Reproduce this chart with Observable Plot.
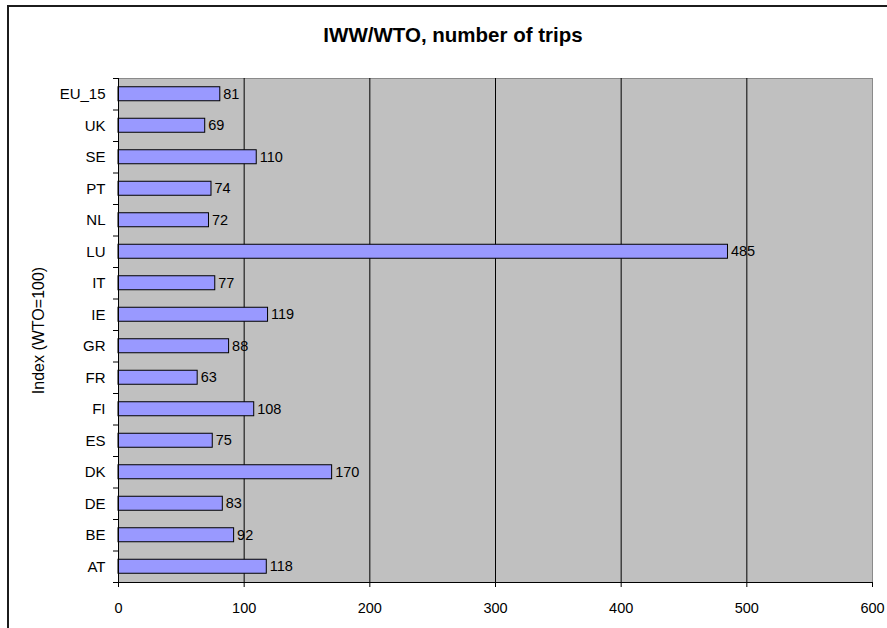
<!DOCTYPE html>
<html>
<head>
<meta charset="utf-8">
<script src="https://cdn.jsdelivr.net/npm/d3@7"></script>
<script src="https://cdn.jsdelivr.net/npm/@observablehq/plot@0.6"></script>
<style>
  html, body { margin: 0; padding: 0; background: #fff; overflow: hidden; }
  body { font-family: "Liberation Sans", Arial, sans-serif; color: #000; }
  #wrap { position: relative; width: 887px; height: 628px; overflow: hidden; }
  #border { position: absolute; left: 7px; top: 5px; width: 1000px; height: 1000px;
            border-left: 2px solid #1c1c1c; border-top: 2px solid #1c1c1c; }
  #title { position: absolute; left: 0; top: 23px; width: 906px; text-align: center;
           font-weight: bold; font-size: 20.5px; line-height: 24px; }
  #chart { position: absolute; left: 0; top: 0; }
  #chart svg { font-family: "Liberation Sans", Arial, sans-serif; }
</style>
</head>
<body>
<div id="wrap">
  <div id="border"></div>
  <div id="chart"></div>
  <div id="title"></div>
</div>
<script>
const titleText = "IWW/WTO, number of trips";
const yTitle = "Index (WTO=100)";
const countries = ["EU_15", "UK", "SE", "PT", "NL", "LU", "IT", "IE", "GR", "FR", "FI", "ES", "DK", "DE", "BE", "AT"];
const values    = [81, 69, 110, 74, 72, 485, 77, 119, 88, 63, 108, 75, 170, 83, 92, 118];
const xTicks = [0, 100, 200, 300, 400, 500, 600];

const data = countries.map((c, i) => ({country: c, value: values[i]}));
const gridTicks = xTicks.filter(t => t > xTicks[0] && t < xTicks[xTicks.length - 1]);

const W = 887, H = 628;
const mL = 118, mR = 15, mT = 78, mB = 46;
const band = (H - mT - mB) / countries.length;
const barH = 14;
const tickUnits = 5 * (xTicks[xTicks.length - 1] - xTicks[0]) / (W - mL - mR);

document.getElementById("title").textContent = titleText;

const chart = Plot.plot({
  width: W,
  height: H,
  marginLeft: mL,
  marginRight: mR,
  marginTop: mT,
  marginBottom: mB,
  style: {background: "transparent", color: "#000", fontFamily: "Liberation Sans, Arial, sans-serif"},
  x: {domain: [xTicks[0], xTicks[xTicks.length - 1]]},
  y: {type: "band", domain: countries, padding: 0, round: false},
  marks: [
    Plot.frame({fill: "#C0C0C0", stroke: "#8a8a8a"}),
    Plot.gridX(gridTicks, {stroke: "#000", strokeOpacity: 1, strokeWidth: 1}),
    Plot.barX(data, {x: "value", y: "country", fill: "#9999FF", stroke: "#000", strokeWidth: 1,
                     insetTop: (band - barH) / 2, insetBottom: (band - barH) / 2}),
    Plot.text(data, {x: "value", y: "country", text: d => String(d.value), textAnchor: "start",
                     dx: 3, fontSize: 14.5, fill: "#000"}),
    Plot.ruleX([xTicks[0]], {stroke: "#000", strokeWidth: 1}),
    Plot.ruleY([countries[countries.length - 1]], {dy: band / 2, stroke: "#000", strokeWidth: 1}),
    Plot.ruleY(countries, {y: d => d, x1: -tickUnits, x2: 0, dy: band / 2, stroke: "#000", clip: false}),
    Plot.ruleY([countries[0]], {y: d => d, x1: -tickUnits, x2: 0, dy: -band / 2, stroke: "#000", clip: false}),
    Plot.axisY({tickSize: 0, tickPadding: 13, fontSize: 15, label: null}),
    Plot.axisX(xTicks, {tickSize: 5, tickPadding: 15, fontSize: 14.5, label: null, stroke: "#000"}),
    Plot.text([yTitle], {frameAnchor: "left", dx: -80, rotate: -90, textAnchor: "middle", lineAnchor: "middle",
                         text: d => d, fontSize: 16, fill: "#000"})
  ]
});
document.getElementById("chart").appendChild(chart);
</script>
</body>
</html>
